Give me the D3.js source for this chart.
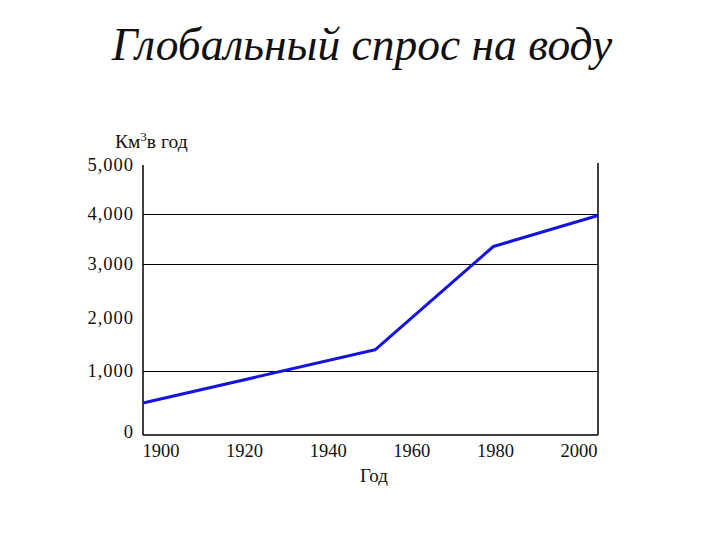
<!DOCTYPE html>
<html><head><meta charset="utf-8">
<script src="https://cdn.jsdelivr.net/npm/d3@7"></script>
<style>body{margin:0;background:#fff}</style>
</head><body>
<script>
const title = "Глобальный спрос на воду";
const years = [1900, 1951, 1977, 2000];
const demand = [500, 1400, 3350, 3970];
const xTicks = [1900, 1920, 1940, 1960, 1980, 2000];
const yTicks = [0, 1000, 2000, 3000, 4000, 5000];
const gridValues = [1000, 3000, 4000];
const xLabel = "Год";
const yLabel = "Км";

const W = 720, H = 540;
const svg = d3.select("body").append("svg").attr("width", W).attr("height", H);
const serif = "'Liberation Serif','Times New Roman',serif";

const left = 143, right = 598, bottom = 435;
const x = d3.scaleLinear().domain([1900, 2000]).range([left, right]);
const xLab = d3.scaleLinear().domain([1900, 2000]).range([161, 579]);
// the reference axis is not evenly spaced; piecewise scale follows it
const y = d3.scaleLinear().domain(yTicks).range([bottom, 371, 318, 264, 214, 165]);

svg.append("text").attr("x", 362).attr("y", 60).attr("text-anchor", "middle")
  .attr("font-family", serif).attr("font-style", "italic").attr("font-size", 45.5)
  .attr("fill", "#111").text(title);

// grid lines
svg.selectAll("line.grid").data(gridValues).enter().append("line")
  .attr("x1", left).attr("x2", right).attr("y1", d => Math.round(y(d)) + 0.5).attr("y2", d => Math.round(y(d)) + 0.5)
  .attr("stroke", "#000").attr("stroke-width", 1);

// frame: left, right, bottom
const fr = svg.append("g").attr("stroke", "#000").attr("stroke-width", 1.5);
fr.append("line").attr("x1", left).attr("x2", left).attr("y1", y(5000)).attr("y2", bottom);
fr.append("line").attr("x1", right).attr("x2", right).attr("y1", y(5000) - 2).attr("y2", bottom);
fr.append("line").attr("x1", left).attr("x2", right).attr("y1", bottom).attr("y2", bottom);

// y tick labels
svg.selectAll("text.yt").data(yTicks).enter().append("text")
  .attr("x", 134).attr("y", d => d === 0 ? y(d) - 3 : y(d)).attr("dy", "0.35em")
  .attr("text-anchor", "end").attr("font-family", serif).attr("font-size", 18.5)
  .attr("letter-spacing", 1).attr("fill", "#111").text(d => d3.format(",")(d));

// x tick labels
svg.selectAll("text.xt").data(xTicks).enter().append("text")
  .attr("x", d => xLab(d)).attr("y", 457).attr("text-anchor", "middle")
  .attr("font-family", serif).attr("font-size", 18.5).attr("fill", "#111").text(d => d);

// axis titles
svg.append("text").attr("x", 374).attr("y", 482).attr("text-anchor", "middle")
  .attr("font-family", serif).attr("font-size", 19).attr("fill", "#111").text(xLabel);
const yl = svg.append("text").attr("x", 115).attr("y", 148)
  .attr("font-family", serif).attr("font-size", 19.5).attr("fill", "#111");
yl.append("tspan").text(yLabel);
yl.append("tspan").attr("dy", -7).attr("font-size", 13).text("3");
yl.append("tspan").attr("dy", 7).text("в год");

// data line
const line = d3.line().x((d, i) => x(years[i])).y(d => y(d));
svg.append("path").datum(demand).attr("d", line).attr("fill", "none")
  .attr("stroke", "#1414dc").attr("stroke-width", 3).attr("stroke-linejoin", "round");
</script>
</body></html>
